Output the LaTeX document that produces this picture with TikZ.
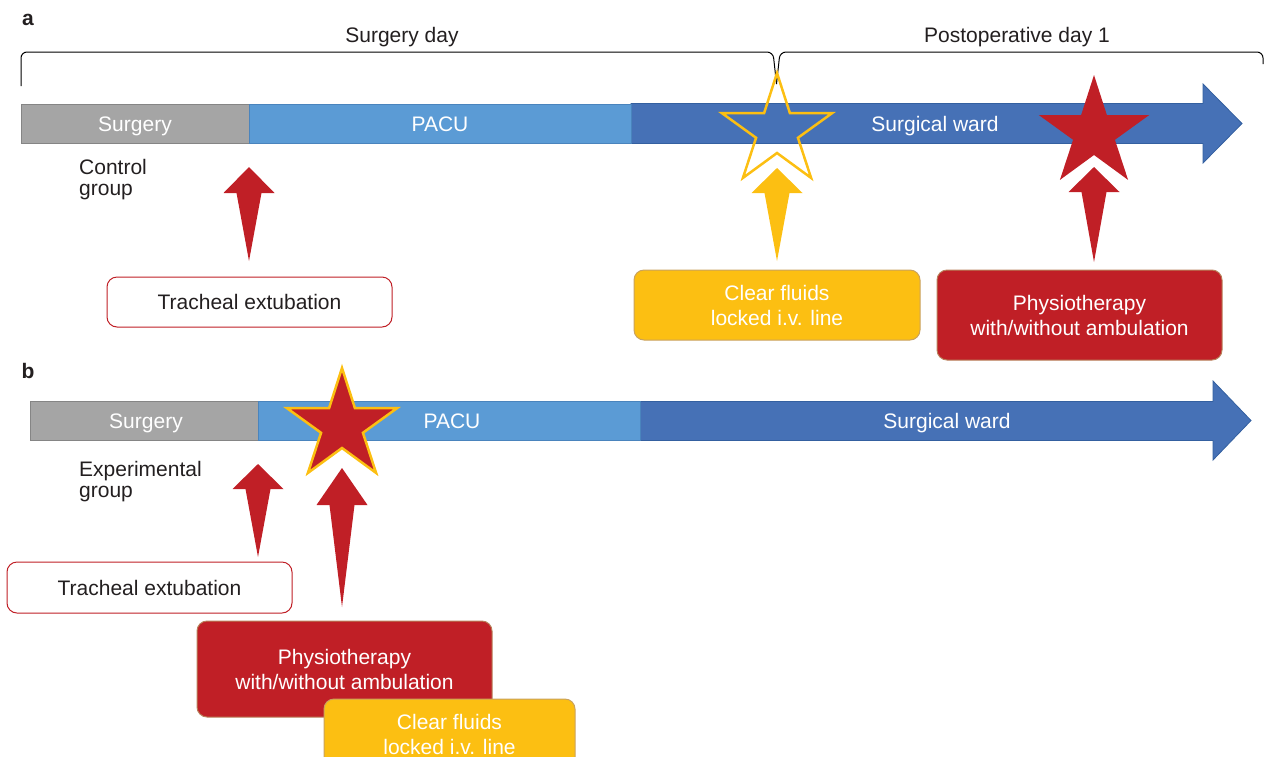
\documentclass[tikz,border=0pt]{standalone}
\usepackage{fontspec}
\setmainfont{Liberation Sans}
\definecolor{myred}{HTML}{C01F26}
\definecolor{myyel}{HTML}{FCBF12}
\definecolor{mygray}{HTML}{A5A5A5}
\definecolor{mygrayb}{HTML}{858585}
\definecolor{pacu}{HTML}{5B9BD5}
\definecolor{pacub}{HTML}{4A84BD}
\definecolor{ward}{HTML}{4671B6}
\definecolor{wardb}{HTML}{3460A0}
\definecolor{txt}{HTML}{231F20}
\definecolor{tanb}{HTML}{C9A25E}
\definecolor{redb}{HTML}{B8805A}
\newcommand\fivestar[3]{\path[#3] ({#1},{#2-58}) -- ({#1+22*cos(-54)},{#2+22*sin(-54)}) -- ({#1+58*cos(-18)},{#2+58*sin(-18)}) -- ({#1+22*cos(18)},{#2+22*sin(18)}) -- ({#1+58*cos(54)},{#2+58*sin(54)}) -- ({#1},{#2+22}) -- ({#1+58*cos(126)},{#2+58*sin(126)}) -- ({#1+22*cos(162)},{#2+22*sin(162)}) -- ({#1+58*cos(198)},{#2+58*sin(198)}) -- ({#1+22*cos(234)},{#2+22*sin(234)}) -- cycle;}
\newcommand\blkarrow[5]{\fill[#5] (#1,#2) -- ({#1+25.5},#3) -- ({#1+12.5},#3) -- (#1,#4) -- ({#1-12.5},#3) -- ({#1-25.5},#3) -- cycle;}
\begin{document}
\begin{tikzpicture}[x=1pt,y=-1pt,
  font=\fontsize{21}{25}\selectfont,
  seg/.style={line width=0.8pt, minimum height=39pt, inner sep=0pt, text=white},
  bartxt/.style={text=white, inner sep=0pt, text height=15pt, text depth=4.5pt},
  lbl/.style={text=txt, inner sep=0pt},
  grp/.style={text=txt, inner sep=0pt, anchor=north west, align=left, font=\fontsize{21}{21}\selectfont},
  wbox/.style={draw=myred, line width=1pt, fill=white, rounded corners=10pt, text=txt, inner sep=0pt, align=center},
  ybox/.style={draw=tanb, line width=1pt, fill=myyel, rounded corners=10pt, text=white, inner sep=0pt, align=center},
  rbox/.style={draw=redb, line width=1pt, fill=myred, rounded corners=10pt, text=white, inner sep=0pt, align=center}]
\useasboundingbox (0,0) rectangle (1265,756);

% ---------- panel a ----------
\node[lbl, font=\fontsize{21}{25}\selectfont\bfseries] (la) at (28,20) {a};
\node[lbl] (sday) at (402,37) {Surgery day};
\node[lbl] (pday) at (1017,37) {Postoperative day 1};
\draw[line width=1pt, rounded corners=6pt] (21,86) -- (21,52) -- (773,52) -- (776.5,84);
\draw[line width=1pt, rounded corners=6pt] (776.5,84) -- (780,52) -- (1263,52) -- (1263,64);

\filldraw[fill=ward, draw=wardb, line width=0.8pt] (631,103.5) -- (1203,103.5) -- (1203,84) -- (1242,123.5) -- (1203,163) -- (1203,143.5) -- (631,143.5) -- cycle;
\node[seg, fill=mygray, draw=mygrayb, minimum width=228pt] (surgA) at (135,123.5) {};
\node[seg, fill=pacu, draw=pacub, minimum width=382pt] (pacuA) at (440,123.5) {};
\node[bartxt] (surgAt) at (135,126) {Surgery};
\node[bartxt] (pacuAt) at (440,126) {PACU};
\node[bartxt] (wardA) at (935,126) {Surgical ward};

\node[grp] (ctrl) at (79,159) {Control\\group};

\fivestar{777}{131}{draw=myyel, line width=2.5pt}
\fivestar{1094}{133}{fill=myred}

\blkarrow{249}{167}{193}{261}{myred}
\blkarrow{777}{168}{193}{261}{myyel}
\blkarrow{1094}{167}{192}{262}{myred}

\node[wbox, minimum width=285pt, minimum height=50pt] (trachA) at (249.5,302) {Tracheal extubation};
\node[ybox, minimum width=286pt, minimum height=70pt] (clearA) at (777,305) {Clear fluids\\locked i.v. line};
\node[rbox, minimum width=285pt, minimum height=90pt] (physA) at (1079.5,315) {Physiotherapy\\with/without ambulation};

% ---------- panel b ----------
\node[lbl, font=\fontsize{21}{25}\selectfont\bfseries] (lb) at (28,371) {b};
\filldraw[fill=ward, draw=wardb, line width=0.8pt] (640,401.5) -- (1213,401.5) -- (1213,381) -- (1251,420.5) -- (1213,460) -- (1213,440.5) -- (640,440.5) -- cycle;
\node[seg, fill=mygray, draw=mygrayb, minimum width=228pt] (surgB) at (144,420.5) {};
\node[seg, fill=pacu, draw=pacub, minimum width=382pt] (pacuB) at (449,420.5) {};
\node[bartxt] (surgBt) at (146,423.5) {Surgery};
\node[bartxt] (pacuBt) at (452,423.5) {PACU};
\node[bartxt] (wardB) at (947,423.5) {Surgical ward};

\node[grp] (expt) at (79,461) {Experimental\\group};

\fivestar{342}{426}{fill=myred, draw=myyel, line width=2.5pt}

\blkarrow{258}{464}{489}{557}{myred}
\blkarrow{342}{468}{505}{607}{myred}

\node[wbox, minimum width=285pt, minimum height=51pt] (trachB) at (149.5,587.5) {Tracheal extubation};
\node[rbox, minimum width=295pt, minimum height=96pt] (physB) at (344.5,669) {Physiotherapy\\with/without ambulation};
\node[ybox, minimum width=251pt, minimum height=70pt] (clearB) at (449.5,734) {Clear fluids\\locked i.v. line};
\end{tikzpicture}
\end{document}
